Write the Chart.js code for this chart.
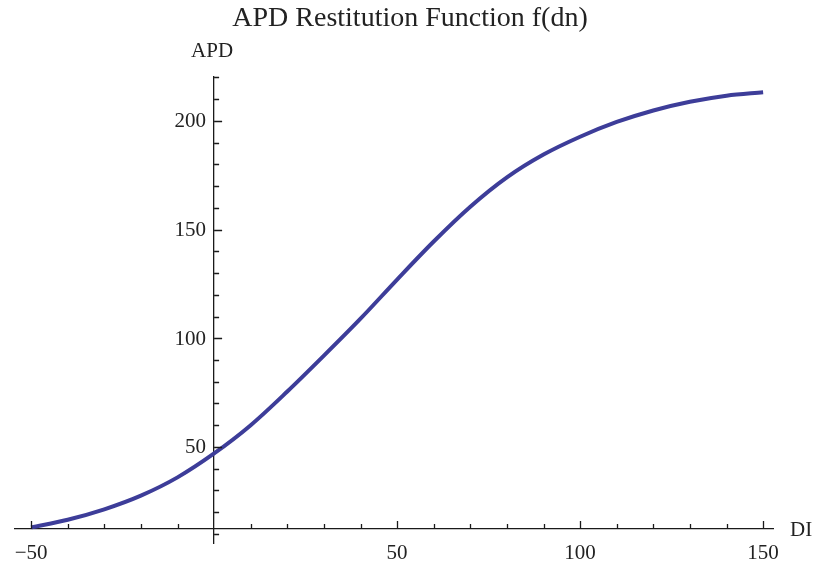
<!DOCTYPE html>
<html>
<head>
<meta charset="utf-8">
<script src="https://cdn.jsdelivr.net/npm/chart.js@4.4.1/dist/chart.umd.min.js"></script>
<style>
  html, body { margin: 0; padding: 0; background: #ffffff; }
  #wrap { width: 814px; height: 562px; }
</style>
</head>
<body>
<div id="wrap"><canvas id="c" width="814" height="562"></canvas></div>
<script>
// ---- data ----
const titleText = 'APD Restitution Function f(dn)';
const xAxisLabel = 'DI';
const yAxisLabel = 'APD';
const diValues  = [-50, -40, -30, -20, -10, 0, 10, 20, 30, 40, 50, 60, 70, 80, 90, 100, 110, 120, 130, 140, 150];
const apdValues = [13, 16.5, 21.3, 27.6, 36, 47, 60, 75.5, 92, 109, 127, 144.5, 160.5, 174, 184.5, 192.7, 199.5, 204.8, 208.8, 211.6, 213.2];
const xMajorTicks = [-50, 50, 100, 150];
const yMajorTicks = [50, 100, 150, 200];
const xMinorTicks = [-50, -40, -30, -20, -10, 10, 20, 30, 40, 50, 60, 70, 80, 90, 100, 110, 120, 130, 140, 150];
const yMinorTicks = [10, 20, 30, 40, 50, 60, 70, 80, 90, 100, 110, 120, 130, 140, 150, 160, 170, 180, 190, 200, 210, 220];
const xRange = [-54.4, 152.7];
const yRange = [5.8, 220.2];
const axesOrigin = { x: 0, y: 12.2 };

// ---- styles ----
const SERIF = "'Liberation Serif', 'DejaVu Serif', serif";
const TEXT_COLOR = '#222222';
const AXIS_COLOR = '#1a1a1a';
const LINE_COLOR = 'rgb(61,61,153)';

function fmt(v) { return v < 0 ? '\u2212' + Math.abs(v) : String(v); }

const axisDecor = {
  id: 'axisDecor',
  afterDraw(chart) {
    const ctx = chart.ctx;
    const xs = chart.scales.x, ys = chart.scales.y;
    const xAxisY = ys.getPixelForValue(axesOrigin.y);
    const yAxisX = xs.getPixelForValue(axesOrigin.x);
    ctx.save();
    // tick marks (pointing into the plot, like the reference)
    ctx.strokeStyle = AXIS_COLOR;
    ctx.lineWidth = 1.3;
    ctx.beginPath();
    xMinorTicks.forEach(v => {
      const len = xMajorTicks.includes(v) ? 8 : 5;
      const px = Math.round(xs.getPixelForValue(v)) + 0.5;
      ctx.moveTo(px, xAxisY);
      ctx.lineTo(px, xAxisY - len);
    });
    yMinorTicks.forEach(v => {
      const len = yMajorTicks.includes(v) ? 8 : 5;
      const py = Math.round(ys.getPixelForValue(v)) + 0.5;
      ctx.moveTo(yAxisX, py);
      ctx.lineTo(yAxisX + len, py);
    });
    ctx.stroke();
    ctx.fillStyle = TEXT_COLOR;
    // y tick labels, left of the axis
    ctx.font = '21px ' + SERIF;
    ctx.textAlign = 'right';
    ctx.textBaseline = 'middle';
    yMajorTicks.forEach(v => {
      ctx.fillText(fmt(v), yAxisX - 8, ys.getPixelForValue(v) + 1);
    });
    // axis names
    ctx.textAlign = 'center';
    ctx.fillText(yAxisLabel, yAxisX - 2, chart.chartArea.top - 26);
    ctx.textAlign = 'left';
    ctx.fillText(xAxisLabel, chart.chartArea.right + 17, xAxisY + 1);
    // title, centered over the whole picture
    ctx.font = '28px ' + SERIF;
    ctx.textAlign = 'center';
    ctx.fillText(titleText, chart.width / 2 + 3, 19);
    ctx.restore();
  }
};

new Chart(document.getElementById('c'), {
  type: 'line',
  data: {
    datasets: [{
      data: diValues.map((x, i) => ({ x: x, y: apdValues[i] })),
      borderColor: LINE_COLOR,
      borderWidth: 4,
      pointRadius: 0,
      fill: false,
      cubicInterpolationMode: 'monotone'
    }]
  },
  options: {
    responsive: false,
    devicePixelRatio: 1,
    animation: false,
    layout: { padding: { top: 77, left: 15, right: 41, bottom: 19 } },
    plugins: {
      legend: { display: false },
      tooltip: { enabled: false },
      title: { display: false }
    },
    scales: {
      x: {
        type: 'linear',
        min: xRange[0],
        max: xRange[1],
        position: { y: axesOrigin.y },
        grid: { display: false },
        border: { display: true, color: AXIS_COLOR, width: 1.3 },
        afterBuildTicks: s => { s.ticks = xMajorTicks.map(v => ({ value: v })); },
        afterFit: s => { s.height = 0; },
        ticks: {
          autoSkip: false, maxRotation: 0, padding: 4,
          color: TEXT_COLOR,
          font: { family: SERIF, size: 21 },
          callback: v => fmt(v)
        }
      },
      y: {
        type: 'linear',
        min: yRange[0],
        max: yRange[1],
        position: { x: axesOrigin.x },
        grid: { display: false },
        border: { display: true, color: AXIS_COLOR, width: 1.3 },
        afterBuildTicks: s => { s.ticks = yMajorTicks.map(v => ({ value: v })); },
        afterFit: s => { s.width = 0; },
        ticks: { display: false }
      }
    }
  },
  plugins: [axisDecor]
});
</script>
</body>
</html>
